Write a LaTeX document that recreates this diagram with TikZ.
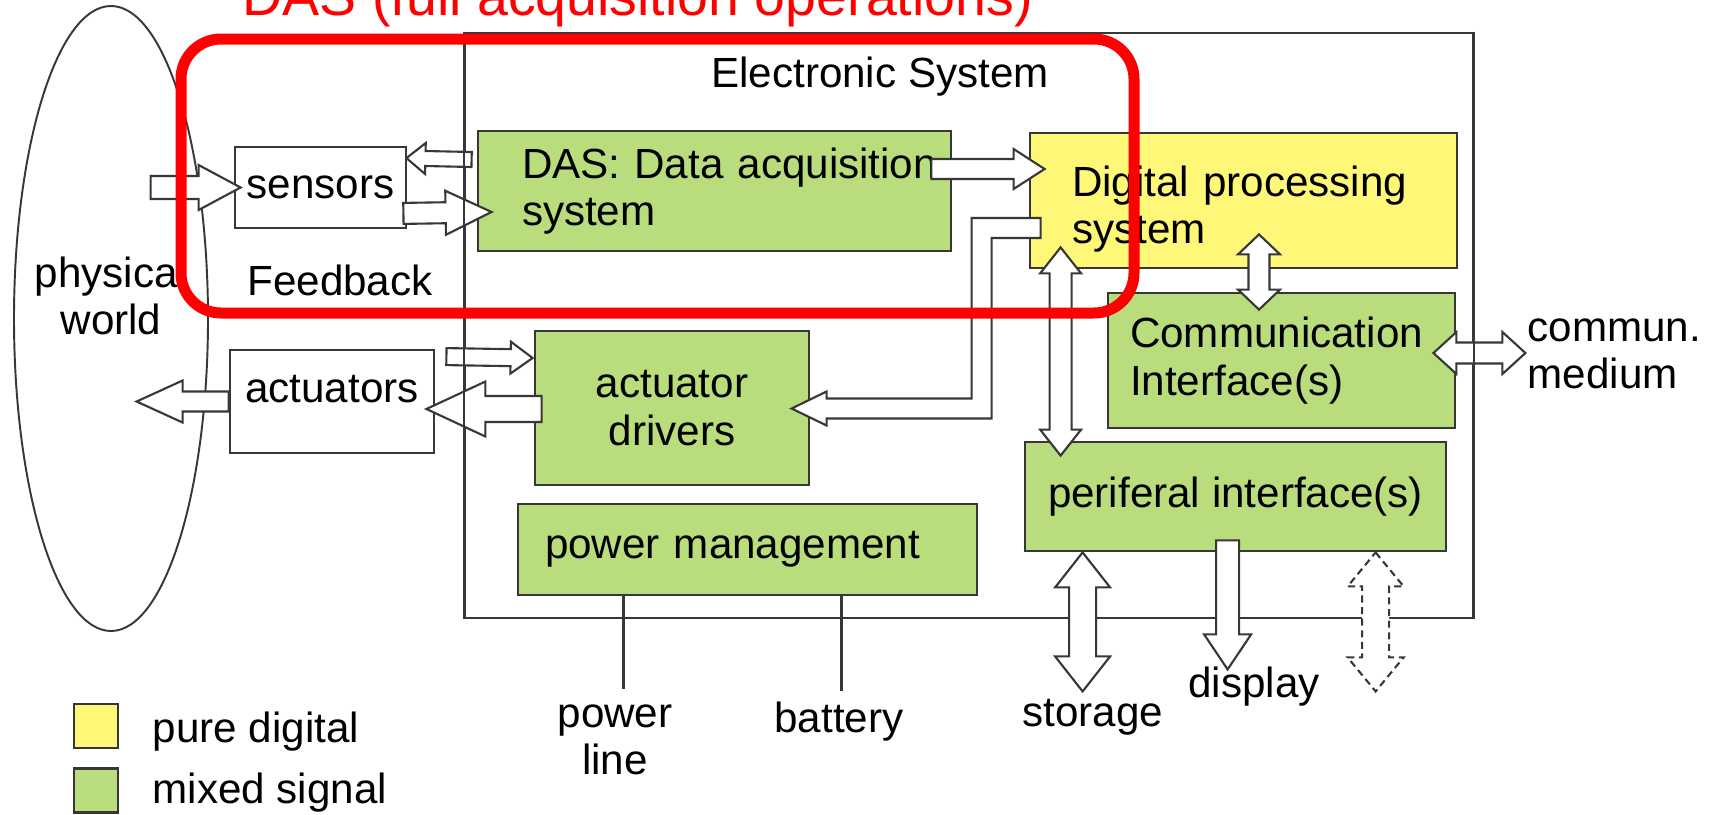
\documentclass[tikz,border=0pt]{standalone}
\usepackage{fontspec}
\setmainfont{Liberation Sans}
\usetikzlibrary{calc,shapes.geometric}

\definecolor{mixgreen}{RGB}{185,220,125}
\definecolor{digyellow}{RGB}{255,247,120}
\definecolor{linegray}{RGB}{55,55,55}

\tikzset{
  txt/.style={font=\fontsize{12}{13.5}\selectfont, inner sep=0pt},
  plainbox/.style={txt, draw=linegray, line width=0.8pt, fill=white, align=center},
  mixbox/.style={plainbox, fill=mixgreen},
  digbox/.style={plainbox, fill=digyellow},
  esline/.style={draw=linegray, line width=0.65pt},
  blockarrow/.style={draw=linegray, fill=white, line width=0.6pt},
  dasframe/.style={draw=red, line width=0.11cm, rounded corners=0.4cm}
}

% block arrow: [opts]{from}{to}{half shaft}{half head}{head length}
\newcommand{\onearrow}[6][]{%
  \coordinate (hb) at ($(#3)!#6!(#2)$);
  \draw[blockarrow,#1] ($(#2)!#4!90:(#3)$) -- ($(hb)!#4!90:(#3)$) -- ($(hb)!#5!90:(#3)$)
    -- (#3) -- ($(hb)!#5!-90:(#3)$) -- ($(hb)!#4!-90:(#3)$) -- ($(#2)!#4!-90:(#3)$) -- cycle;}
% same with a head at both ends
\newcommand{\twoarrow}[6][]{%
  \coordinate (ha) at ($(#2)!#6!(#3)$);
  \coordinate (hb) at ($(#3)!#6!(#2)$);
  \draw[blockarrow,#1] (#2) -- ($(ha)!#5!90:(#3)$) -- ($(ha)!#4!90:(#3)$) -- ($(hb)!#4!90:(#3)$)
    -- ($(hb)!#5!90:(#3)$) -- (#3) -- ($(hb)!#5!-90:(#3)$) -- ($(hb)!#4!-90:(#3)$)
    -- ($(ha)!#4!-90:(#3)$) -- ($(ha)!#5!-90:(#3)$) -- cycle;}

\begin{document}
\begin{tikzpicture}
\useasboundingbox (0,0) rectangle (17.13,-8.14);

% the electronic system and the outside world
\node[esline, minimum width=10.08cm, minimum height=5.85cm, inner sep=0pt] (es) at (9.69,-3.255) {};
\node[draw=linegray, line width=0.55pt, shape=ellipse, minimum width=1.94cm, minimum height=6.25cm, inner sep=0pt] (world) at (1.11,-3.185) {};

% blocks
\node[plainbox, minimum width=1.71cm, minimum height=0.81cm] (sens) at (3.205,-1.875) {sensors};
\node[plainbox, minimum width=2.04cm, minimum height=1.03cm, text depth=0.25cm] (act) at (3.32,-4.015) {actuators};
\node[mixbox, align=left, text width=3.85cm, minimum width=4.73cm, minimum height=1.2cm] (das) at (7.145,-1.91) {\mbox{DAS: Data acquisition}\\system};
\node[digbox, align=left, text width=3.43cm, text height=0.48cm, minimum width=4.27cm, minimum height=1.35cm] (dps) at (12.435,-2.005) {Digital processing\\system};
\node[mixbox, align=left, text width=3.03cm, minimum width=3.47cm, minimum height=1.35cm] (comm) at (12.815,-3.605) {Communication\\Interface(s)};
\node[mixbox, minimum width=2.74cm, minimum height=1.54cm] (drv) at (6.72,-4.08) {actuator\\drivers};
\node[mixbox, align=left, text width=4.05cm, minimum width=4.59cm, minimum height=0.91cm] (pwr) at (7.475,-5.495) {power management};
\node[mixbox, minimum width=4.21cm, minimum height=1.09cm] (per) at (12.355,-4.965) {periferal interface(s)};

% sensors side
\coordinate (w2s) at ($(sens.west)+(-0.83,0)$);
\coordinate (s-in) at ($(sens.west)+(0.07,0)$);
\onearrow{w2s}{s-in}{1.15mm}{2.25mm}{4.2mm}
\coordinate (d2s) at ($(das.west)+(-0.05,0.315)$);
\coordinate (s-fb) at ($(sens.north east)+(-0.01,-0.125)$);
\onearrow{d2s}{s-fb}{0.75mm}{1.55mm}{1.9mm}
\coordinate (s2d) at ($(sens.south east)+(-0.04,0.16)$);
\coordinate (d-in) at ($(das.west)+(0.15,-0.21)$);
\onearrow{s2d}{d-in}{1.05mm}{2.2mm}{4.6mm}
\coordinate (d2p) at ($(das.east)+(-0.21,0.22)$);
\coordinate (p-in) at ($(dps.west)+(0.16,0.315)$);
\onearrow{d2p}{p-in}{1mm}{2mm}{3.1mm}

% processing back to the drivers
\coordinate (p-out) at ($(dps.west)+(0.12,-0.275)$);
\draw[blockarrow] ($(p-out)+(0,0.1)$) -- ++(-0.69,0) -- ++(0,-1.805) -- ++(-1.45,0) -- ++(0,0.07)
  -- ++(-0.35,-0.17) -- ++(0.35,-0.17) -- ++(0,0.07) -- ++(1.65,0) -- ++(0,1.805) -- ++(0.49,0) -- cycle;

% actuators side
\coordinate (v2a) at ($(drv.west)+(0.08,-0.01)$);
\coordinate (a-in) at ($(act.east)+(-0.09,-0.075)$);
\onearrow{v2a}{a-in}{1.3mm}{2.75mm}{5.9mm}
\coordinate (w-in) at ($(act.west)+(-0.92,0)$);
\onearrow{act.west}{w-in}{1mm}{2.1mm}{4.6mm}
\coordinate (fb) at ($(act.north east)+(0.11,-0.08)$);
\coordinate (v-in) at ($(drv.west)+(-0.01,0.5)$);
\onearrow{fb}{v-in}{0.85mm}{1.6mm}{2.2mm}

% buses on the right
\coordinate (p2c) at ($(dps.south)+(0.155,0.35)$);
\coordinate (c-in) at ($(comm.north)+(-0.225,-0.18)$);
\twoarrow{p2c}{c-in}{1.05mm}{2.1mm}{2mm}
\coordinate (p2f) at ($(dps.south west)+(0.32,0.22)$);
\coordinate (f-in) at ($(per.north west)+(0.37,-0.15)$);
\twoarrow{p2f}{f-in}{1.1mm}{2.05mm}{2.6mm}
\coordinate (c2m) at ($(comm.east)+(-0.23,0.075)$);
\coordinate (m-in) at ($(c2m)+(0.92,0)$);
\twoarrow{c2m}{m-in}{1.05mm}{2.1mm}{2.3mm}

% peripherals
\coordinate (f2s) at ($(per.south west)+(0.59,0)$);
\coordinate (stor-in) at ($(f2s)+(0,-1.39)$);
\twoarrow{f2s}{stor-in}{1.35mm}{2.75mm}{3.5mm}
\coordinate (f2d) at ($(per.south west)+(2.04,0.12)$);
\coordinate (disp-in) at ($(f2d)+(0,-1.29)$);
\onearrow{f2d}{disp-in}{1.15mm}{2.35mm}{3.5mm}
\coordinate (f2x) at ($(per.south west)+(3.52,0)$);
\coordinate (x-in) at ($(f2x)+(0,-1.39)$);
\twoarrow[dash pattern=on 2pt off 1.3pt]{f2x}{x-in}{1.35mm}{2.8mm}{3.4mm}

% side walls go over the arrows
\draw[esline] (es.north west) -- (es.south west);
\draw[esline] (es.north east) -- (es.south east);

% supply lines
\draw[esline] ($(pwr.south west)+(1.07,0)$) -- ++(0,-0.93);
\draw[esline] ($(pwr.south west)+(3.25,0)$) -- ++(0,-0.95);

% labels
\node[txt, anchor=base] (estitle) at (8.80,-0.87) {Electronic System};
\node[txt, anchor=north, align=center] (physlbl) at (1.11,-2.56) {physical\\world};
\node[txt, anchor=base] (fblbl) at (3.40,-2.95) {Feedback};
\node[txt, anchor=north west, align=left] (medlbl) at (15.27,-3.18) {commun.\\medium};
\node[txt, anchor=north, align=center] (plbl) at (6.15,-7.04) {power\\line};
\node[txt, anchor=base] (batlbl) at (8.39,-7.32) {battery};
\node[txt, anchor=base] (storlbl) at (10.93,-7.26) {storage};
\node[txt, anchor=base] (displbl) at (12.54,-6.97) {display};

% legend
\node[plainbox, fill=digyellow, minimum size=0.44cm] (keydig) at (0.96,-7.26) {};
\node[txt, anchor=base west] (keydiglbl) at (1.52,-7.42) {pure digital};
\node[plainbox, fill=mixgreen, minimum size=0.44cm] (keymix) at (0.96,-7.905) {};
\node[txt, anchor=base west] (keymixlbl) at (1.52,-8.03) {mixed signal};

% acquisition part
\draw[dasframe] (1.81,-0.39) rectangle (11.34,-3.13);
\node[txt, anchor=base west, text=red, font=\fontsize{15.8}{18}\selectfont] (dastitle) at (2.42,-0.15) {DAS (full acquisition operations)};
\end{tikzpicture}
\end{document}
